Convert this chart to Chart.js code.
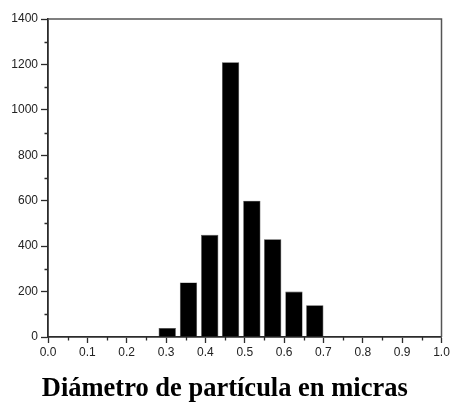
<!DOCTYPE html>
<html>
<head>
<meta charset="utf-8">
<script src="https://cdn.jsdelivr.net/npm/chart.js@4/dist/chart.umd.min.js"></script>
<style>
  html, body { margin: 0; padding: 0; background: #fff; }
  #wrap { width: 452px; height: 403px; }
</style>
</head>
<body>
<div id="wrap"><canvas id="c" width="452" height="403"></canvas></div>
<script>
// Histogram bins: bin centres (micrometres) and particle counts
const binCenters = [0.303, 0.357, 0.411, 0.464, 0.518, 0.571, 0.625, 0.678];
const counts     = [40, 240, 450, 1210, 600, 430, 200, 140];

// Axis ranges and tick spacing
const xRange = [0, 1];
const xMajorStep = 0.1;
const xMinorTicks = [0.05, 0.15, 0.25, 0.35, 0.45, 0.55, 0.65, 0.75, 0.85, 0.95];
const yRange = [0, 1400];
const yMajorStep = 200;
const yMinorTicks = [100, 300, 500, 700, 900, 1100, 1300];

const axisTitle = 'Diámetro de partícula en micras';

const axisColor = '#2b2b2b';
const tickFont = { family: 'Liberation Sans, Arial, sans-serif', size: 12 };

// Short minor ticks and the top/right frame lines
const framePlugin = {
  id: 'frame',
  afterDraw(chart) {
    const { ctx, chartArea: a, scales } = chart;
    ctx.save();
    ctx.strokeStyle = axisColor;
    ctx.lineWidth = 1.3;
    ctx.beginPath();
    xMinorTicks.forEach(v => {
      const px = Math.round(scales.x.getPixelForValue(v)) + 0.5;
      ctx.moveTo(px, a.bottom);
      ctx.lineTo(px, a.bottom + 3.5);
    });
    yMinorTicks.forEach(v => {
      const py = Math.round(scales.y.getPixelForValue(v)) + 0.5;
      ctx.moveTo(a.left, py);
      ctx.lineTo(a.left - 3.5, py);
    });
    ctx.stroke();
    ctx.strokeStyle = '#555';
    ctx.lineWidth = 1.5;
    ctx.beginPath();
    ctx.moveTo(a.left, a.top);
    ctx.lineTo(a.right, a.top);
    ctx.lineTo(a.right, a.bottom);
    ctx.stroke();
    ctx.restore();
  }
};

new Chart(document.getElementById('c'), {
  type: 'bar',
  data: {
    datasets: [{
      data: binCenters.map((x, i) => ({ x: x, y: counts[i] })),
      backgroundColor: '#000',
      borderColor: '#444',
      borderWidth: 0.6,
      barPercentage: 0.83,
      categoryPercentage: 1.0
    }]
  },
  options: {
    responsive: false,
    animation: false,
    devicePixelRatio: 1,
    layout: { padding: { left: 8, top: 19, right: 10.5, bottom: 0 } },
    plugins: {
      legend: { display: false },
      tooltip: { enabled: false },
      title: {
        display: true,
        position: 'bottom',
        text: axisTitle,
        color: '#000',
        font: { family: 'Liberation Serif, Times New Roman, serif', size: 26.5, weight: 'bold', lineHeight: 1.0 },
        padding: { top: 13, bottom: 0.5 }
      }
    },
    scales: {
      x: {
        type: 'linear',
        min: xRange[0],
        max: xRange[1],
        offset: false,
        grid: { display: true, drawOnChartArea: false, drawTicks: true, tickLength: 6, tickColor: axisColor, tickWidth: 1.3, offset: false },
        border: { display: true, color: axisColor, width: 1.8 },
        ticks: {
          stepSize: xMajorStep,
          color: '#222',
          font: tickFont,
          padding: 2,
          maxRotation: 0,
          autoSkip: false,
          callback: v => Number(v).toFixed(1)
        },
        afterFit: s => { s.height = 26; }
      },
      y: {
        type: 'linear',
        min: yRange[0],
        max: yRange[1],
        grid: { display: true, drawOnChartArea: false, drawTicks: true, tickLength: 7, tickColor: axisColor, tickWidth: 1.3 },
        border: { display: true, color: axisColor, width: 1.8 },
        ticks: {
          stepSize: yMajorStep,
          color: '#222',
          font: tickFont,
          padding: 3,
          autoSkip: false,
          callback: v => String(v)
        },
        afterFit: s => { s.width = 40; }
      }
    }
  },
  plugins: [framePlugin]
});
</script>
</body>
</html>
